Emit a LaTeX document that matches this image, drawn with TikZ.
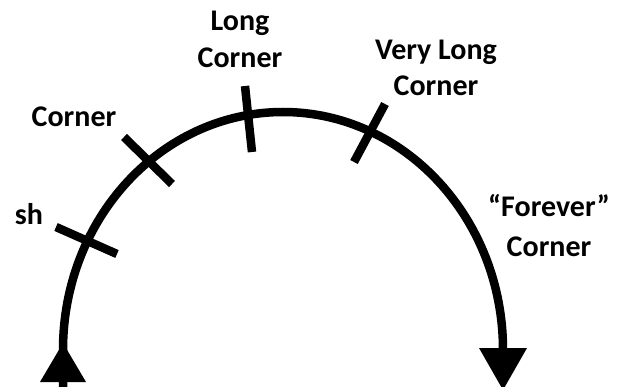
\documentclass[tikz,border=0pt]{standalone}
\usepackage{fontspec}
\setmainfont{Carlito}
\begin{document}
\begin{tikzpicture}[x=1pt,y=-1pt,
  curve/.style={line width=8.5pt,line cap=butt},
  tick/.style={line width=8.5pt,line cap=butt},
  head/.style={fill=black,draw=none},
  lbl/.style={inner sep=0pt,anchor=base,font=\fontsize{30}{37}\bfseries\selectfont}]
\useasboundingbox (0,0) rectangle (620,387);
% main arc
\coordinate (ctr) at (283,350);
\coordinate (lstart) at (63,350);
\coordinate (lfoot) at (63,395);
\draw[curve] (lfoot) -- (lstart) arc[start angle=180,end angle=360,x radius=220,y radius=238] coordinate (rend);
% arrowheads
\coordinate (ltip) at (63,343);
\coordinate (rtip) at (503,390);
\fill[head] (ltip) -- (40,382) -- (86,382) -- cycle;
\fill[head] (rtip) -- (479,348) -- (527,348) -- cycle;
% ticks
\coordinate (t1a) at (56,227); \coordinate (t1b) at (117,254);
\coordinate (t2a) at (124,137); \coordinate (t2b) at (172,184);
\coordinate (t3a) at (245,86);  \coordinate (t3b) at (252,152);
\coordinate (t4a) at (385,104); \coordinate (t4b) at (354,162);
\draw[tick] (t1a) -- (t1b);
\draw[tick] (t2a) -- (t2b);
\draw[tick] (t3a) -- (t3b);
\draw[tick] (t4a) -- (t4b);
% labels
\node[lbl] (sh) at (29,224) {sh};
\node[lbl] (c1) at (74,127) {Corner};
\node[lbl] (lc1) at (240,31) {Long};
\node[lbl] (lc2) at (240,68) {Corner};
\node[lbl] (vl1) at (436,60) {Very Long};
\node[lbl] (vl2) at (436,96) {Corner};
\node[lbl] (fc1) at (549,217) {“Forever”};
\node[lbl] (fc2) at (549,256) {Corner};
\end{tikzpicture}
\end{document}
